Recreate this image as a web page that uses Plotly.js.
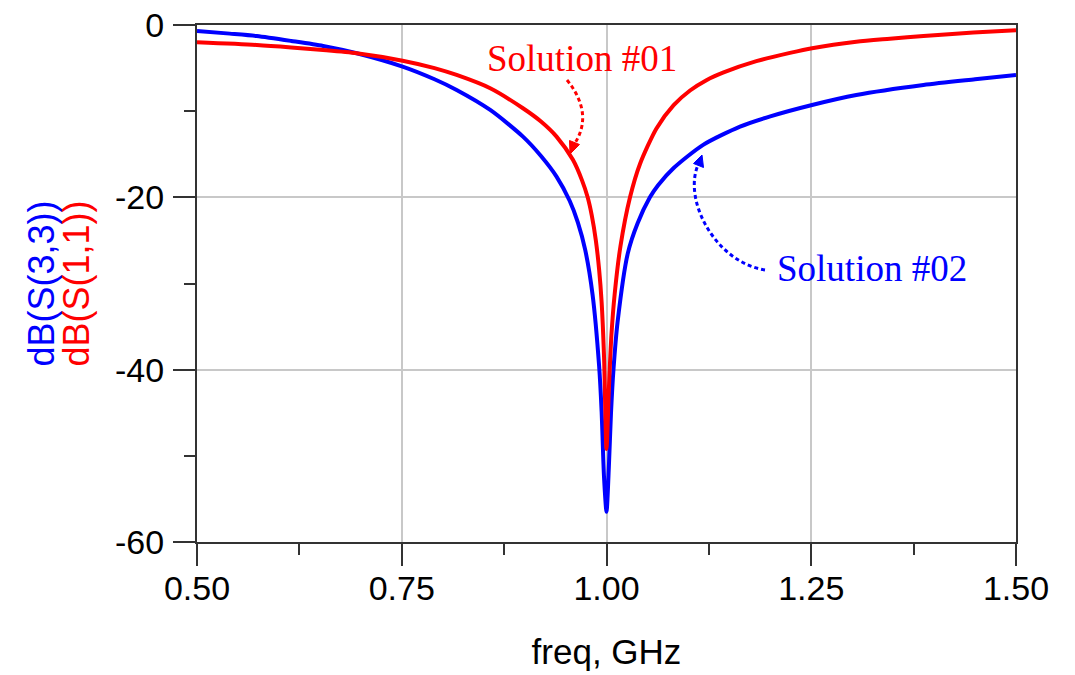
<!DOCTYPE html>
<html>
<head>
<meta charset="utf-8">
<script src="https://cdn.plot.ly/plotly-3.0.1.min.js"></script>
<style>html,body{margin:0;padding:0;background:#fff;}#chart{width:1075px;height:675px;}</style>
</head>
<body>
<div id="chart"></div>
<script>
// ---- data ----
const freq_s11 = [0.500,0.573,0.615,0.654,0.695,0.751,0.790,0.817,0.858,0.898,0.920,0.939,0.959,0.970,0.977,0.982,0.987,0.991,0.994,0.997,1.000,
                  1.003,1.006,1.010,1.017,1.0287,1.041,1.061,1.082,1.102,1.122,1.143,1.183,1.224,1.251,1.305,1.346,1.387,1.448,1.500];
const db_s11   = [-2.01,-2.32,-2.60,-2.90,-3.28,-4.14,-5.0,-5.80,-7.34,-9.66,-11.2,-12.95,-15.65,-18.0,-20.0,-22.1,-25.0,-28.4,-32.1,-38.5,-49.2,
                  -42,-36,-31.2,-25.7,-20.0,-16.1,-12.0,-9.3,-7.6,-6.4,-5.5,-4.2,-3.24,-2.69,-1.94,-1.60,-1.28,-0.88,-0.60];

const freq_s33 = [0.500,0.540,0.573,0.615,0.654,0.695,0.751,0.790,0.817,0.858,0.898,0.920,0.939,0.955,0.965,0.974,0.983,0.991,0.994,0.997,1.000,
                  1.003,1.0055,1.0085,1.0135,1.026,1.038,1.053,1.063,1.082,1.118,1.163,1.200,1.251,1.305,1.387,1.450,1.500];
const db_s33   = [-0.70,-1.0,-1.28,-1.85,-2.43,-3.28,-4.83,-6.3,-7.54,-9.86,-12.95,-15.2,-17.59,-20.4,-22.9,-26.1,-31.3,-39.6,-44.8,-52.5,-56.5,
                  -51,-45,-40,-34.5,-26.5,-23,-20.0,-18.6,-16.6,-13.91,-11.79,-10.6,-9.28,-8.12,-6.96,-6.3,-5.80];

const x_tick_vals = [0.50,0.75,1.00,1.25,1.50];
const x_tick_text = ['0.50','0.75','1.00','1.25','1.50'];
const x_minor_vals = [0.625,0.875,1.125,1.375];
const y_tick_vals = [-60,-40,-20,0];
const y_tick_text = ['-60','-40','-20','0'];
const y_minor_vals = [-50,-30,-10];

const name_s11 = 'dB(S(1,1))';
const name_s33 = 'dB(S(3,3))';
const label_s11 = 'Solution #01';
const label_s33 = 'Solution #02';

// ---- layout geometry ----
const W = 1075, H = 675;
const M = {l:197, r:59, t:25, b:133};
const XR = [0.5, 1.5], YR = [-60, 0];
const pw = W - M.l - M.r, ph = H - M.t - M.b;
function dx(px){ return XR[0] + (px - M.l) / pw * (XR[1]-XR[0]); }
function dy(py){ return YR[1] - (py - M.t) / ph * (YR[1]-YR[0]); }
function P(px,py){ return dx(px).toFixed(5) + ',' + dy(py).toFixed(4); }

const RED = '#ff0000', BLUE = '#0000ff', AX = '#333333';

const traces = [
  {x: freq_s33, y: db_s33, name: name_s33, type:'scatter', mode:'lines',
   line:{color:BLUE, width:4, shape:'spline', smoothing:0.7}},
  {x: freq_s11, y: db_s11, name: name_s11, type:'scatter', mode:'lines',
   line:{color:RED, width:4, shape:'spline', smoothing:0.7}}
];

const shapes = [
  {type:'path', xref:'x', yref:'y', layer:'above',
   path:'M' + P(567,80) + ' Q' + P(595,115) + ' ' + P(573,146),
   line:{color:RED, width:3, dash:'4px,3px'}},
  {type:'path', xref:'x', yref:'y', layer:'above', fillcolor:RED,
   path:'M' + P(570,154) + ' L' + P(579.5,144.5) + ' L' + P(569.5,140.5) + ' Z',
   line:{color:RED, width:1}},
  {type:'path', xref:'x', yref:'y', layer:'above',
   path:'M' + P(765,270) + ' C' + P(715,262) + ' ' + P(683,200) + ' ' + P(698,165),
   line:{color:BLUE, width:3, dash:'4px,3px'}},
  {type:'path', xref:'x', yref:'y', layer:'above', fillcolor:BLUE,
   path:'M' + P(702,155) + ' L' + P(703.5,167.5) + ' L' + P(693.5,163.5) + ' Z',
   line:{color:BLUE, width:1}}
];

const serif = '"Liberation Serif", "Times New Roman", serif';
const sans = '"Liberation Sans", Arial, sans-serif';

const annotations = [
  {xref:'x', yref:'y', x:dx(582), y:dy(58), text:label_s11, showarrow:false,
   xanchor:'center', yanchor:'middle', font:{family:serif, size:37, color:RED}},
  {xref:'x', yref:'y', x:dx(872), y:dy(268), text:label_s33, showarrow:false,
   xanchor:'center', yanchor:'middle', font:{family:serif, size:37, color:BLUE}},
  {xref:'paper', yref:'paper', x:(41 - M.l)/pw, y:0.5, text:name_s33, showarrow:false, textangle:-90,
   xanchor:'center', yanchor:'middle', font:{family:sans, size:36, color:BLUE}},
  {xref:'paper', yref:'paper', x:(76 - M.l)/pw, y:0.5, text:name_s11, showarrow:false, textangle:-90,
   xanchor:'center', yanchor:'middle', font:{family:sans, size:36, color:RED}}
];

const layout = {
  width:W, height:H, margin:M, showlegend:false,
  paper_bgcolor:'#ffffff', plot_bgcolor:'#ffffff',
  font:{family:sans, size:34, color:'#000'},
  xaxis:{range:XR, tickmode:'array', tickvals:x_tick_vals, ticktext:x_tick_text,
    ticks:'outside', ticklen:22, tickwidth:2, tickcolor:AX,
    showline:true, linecolor:AX, linewidth:2, mirror:true,
    showgrid:true, gridcolor:'#c8c8c8', gridwidth:2, zeroline:false,
    minor:{tickmode:'array', tickvals:x_minor_vals, ticks:'outside', ticklen:11, tickwidth:2, tickcolor:AX, showgrid:false},
    tickfont:{family:sans, size:34, color:'#000'}, ticklabelstandoff:-7,
    title:{text:'freq, GHz', font:{family:sans, size:35, color:'#000'}, standoff:34}},
  yaxis:{range:YR, tickmode:'array', tickvals:y_tick_vals, ticktext:y_tick_text,
    ticks:'outside', ticklen:22, tickwidth:2, tickcolor:AX,
    showline:true, linecolor:AX, linewidth:2, mirror:true,
    showgrid:true, gridcolor:'#c8c8c8', gridwidth:2, zeroline:false,
    minor:{tickmode:'array', tickvals:y_minor_vals, ticks:'outside', ticklen:11, tickwidth:2, tickcolor:AX, showgrid:false},
    tickfont:{family:sans, size:34, color:'#000'}, ticklabelstandoff:2},
  shapes:shapes, annotations:annotations
};

Plotly.newPlot('chart', traces, layout, {staticPlot:true, displayModeBar:false});
</script>
</body>
</html>
